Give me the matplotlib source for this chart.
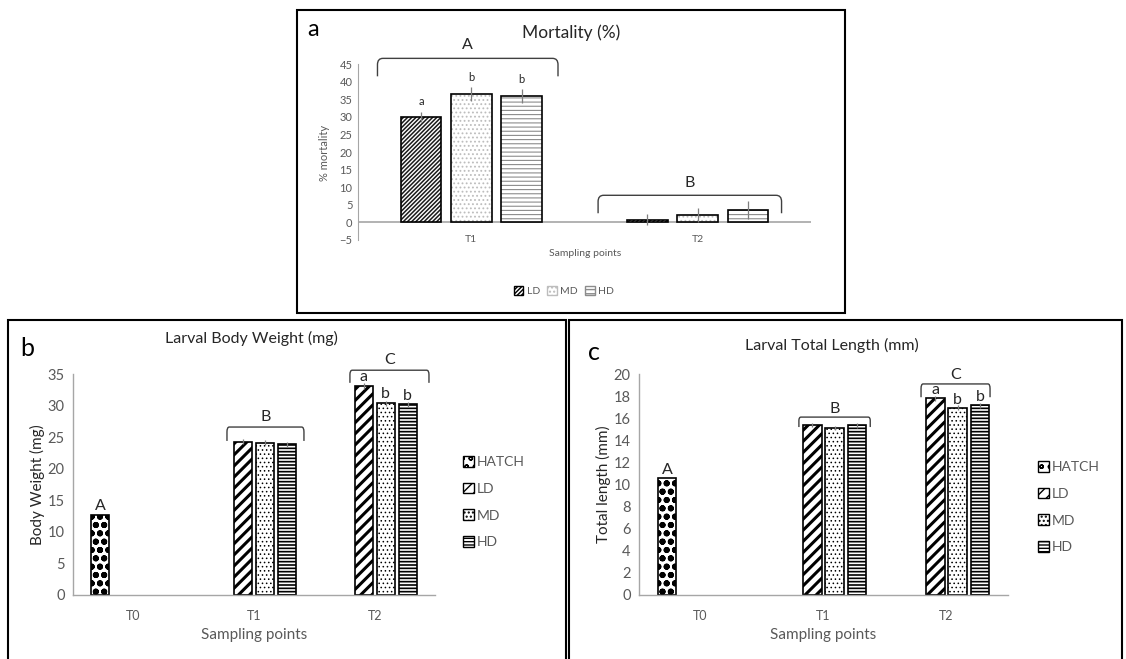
import numpy as np
import matplotlib
matplotlib.use("Agg")
from matplotlib import pyplot as plt
from matplotlib.patches import Rectangle, Patch, PathPatch
from matplotlib.path import Path

plt.rcParams['font.family'] = ['Lato', 'DejaVu Sans']

W, H = 1126, 659
GREY = '#595959'
AXIS_GREY = '#a6a6a6'

# ---- panel a : mortality
mort_points = ['T1', 'T2']
mort_series = ['LD', 'MD', 'HD']
mort_LD = [30.0, 0.8]
mort_MD = [36.5, 2.0]
mort_HD = [35.8, 3.5]
mort_LD_err = [1.5, 1.5]
mort_MD_err = [2.0, 2.0]
mort_HD_err = [2.0, 2.5]
mort_letters = ['a', 'b', 'b']      # on T1 bars
mort_groups = ['A', 'B']

# ---- panels b and c : growth
growth_points = ['T0', 'T1', 'T2']
growth_series = ['HATCH', 'LD', 'MD', 'HD']
nan = np.nan
weight_HATCH = [12.7, nan, nan]
weight_LD = [nan, 24.3, 33.1]
weight_MD = [nan, 24.1, 30.4]
weight_HD = [nan, 23.9, 30.2]
weight_err = [0.3, 0.4, 0.4]
length_HATCH = [10.6, nan, nan]
length_LD = [nan, 15.4, 17.8]
length_MD = [nan, 15.1, 16.95]
length_HD = [nan, 15.35, 17.15]
length_err = [0.15, 0.2, 0.2]
growth_groups = ['A', 'B', 'C']
t2_letters = ['a', 'b', 'b']


def px_rect(x0, y0, x1, y1):
    return [x0 / W, 1 - y1 / H, (x1 - x0) / W, (y1 - y0) / H]


def fig_xy(x, y):
    return x / W, 1 - y / H


def bracket(ax, x0, x1, ytop, ybot, label, ylab, fs, color='#404040'):
    dx = (x1 - x0) * 0.03
    dy = (ytop - ybot) * 0.35
    verts = [(x0, ybot), (x0, ytop - dy), (x0, ytop), (x0 + dx, ytop),
             (x1 - dx, ytop), (x1, ytop), (x1, ytop - dy), (x1, ybot)]
    codes = [Path.MOVETO, Path.LINETO, Path.CURVE3, Path.CURVE3,
             Path.LINETO, Path.CURVE3, Path.CURVE3, Path.LINETO]
    ax.add_patch(PathPatch(Path(verts, codes), fill=False, ec=color, lw=1.0, clip_on=False))
    ax.text((x0 + x1) / 2, ylab, label, ha='center', va='center', fontsize=fs, color='#262626', clip_on=False)


def hatched_bar(ax, x, h, width, hatch, hcolor, hlw, err=None, ecolor='#7f7f7f'):
    with plt.rc_context({'hatch.linewidth': hlw}):
        bars = ax.bar(x, h, width, color='white', edgecolor=hcolor, hatch=hatch, linewidth=0)
    for b in bars:
        if hasattr(b, 'set_hatch_linewidth'):
            b.set_hatch_linewidth(hlw)
    ax.bar(x, h, width, fill=False, edgecolor='black', linewidth=1.2,
           yerr=err, error_kw=dict(ecolor=ecolor, elinewidth=0.9, capsize=0))


fig = plt.figure(figsize=(W / 100, H / 100), dpi=100)

# boxes round the panels
for (x0, y0, x1, y1) in [(297, 10, 845, 313), (8, 320, 566, 662), (569, 320, 1122, 662)]:
    fig.add_artist(Rectangle(fig_xy(x0, y1), (x1 - x0) / W, (y1 - y0) / H,
                             transform=fig.transFigure, fill=False, ec='black', lw=1.5))

# ================= panel a
ax = fig.add_axes(px_rect(358, 64, 811, 240))
xa = np.arange(len(mort_points))
slot = 0.222
bw = 0.18
a_style = {'LD': ('////////', '#1a1a1a', 1.1), 'MD': ('....', '#bdbdbd', 0.8), 'HD': ('----', '#8c8c8c', 0.8)}
a_vals = [mort_LD, mort_MD, mort_HD]
a_errs = [mort_LD_err, mort_MD_err, mort_HD_err]
for i, s in enumerate(mort_series):
    hatch, hc, hlw = a_style[s]
    pos = xa + (i - 1) * slot
    hatched_bar(ax, pos, a_vals[i], bw, hatch, hc, hlw, err=a_errs[i])
    ax.annotate(mort_letters[i], (pos[0], a_vals[i][0] + a_errs[i][0]), xytext=(0, 3),
                textcoords='offset points', ha='center', va='bottom', fontsize=8, color='#262626')
ax.set_xlim(-0.5, 1.5)
ax.set_ylim(-5, 45)
ax.set_yticks(np.arange(-5, 50, 5))
ax.tick_params(axis='y', length=0, labelsize=8, labelcolor=GREY, pad=4)
ax.set_xticks([])
for sp in ['top', 'right', 'bottom']:
    ax.spines[sp].set_visible(False)
ax.spines['left'].set_color(AXIS_GREY)
ax.axhline(0, color=AXIS_GREY, lw=1.2, zorder=0)
for i, p in enumerate(mort_points):
    ax.text(xa[i], -5, p, ha='center', va='center', fontsize=7.5, color=GREY)
bracket(ax, -0.414, 0.383, 46.6, 41.5, mort_groups[0], 50.3, 11.5)
bracket(ax, 1 - 0.44, 1 + 0.37, 7.7, 2.6, mort_groups[1], 11.1, 11.5)
fig.text(*fig_xy(324, 153), '% mortality', rotation=90, ha='center', va='center', fontsize=8, color=GREY)
fig.text(*fig_xy(585, 254), 'Sampling points', ha='center', va='center', fontsize=7.5, color=GREY)
fig.text(*fig_xy(571, 33), 'Mortality (%)', ha='center', va='center', fontsize=12.5, color='#262626')
fig.text(*fig_xy(313, 30), 'a', ha='center', va='center', fontsize=17, color='black')
handles = [Patch(facecolor='white', edgecolor=a_style[s][1] if s != 'LD' else 'black',
                 hatch=a_style[s][0], linewidth=1) for s in mort_series]
fig.legend(handles, mort_series, loc='center', bbox_to_anchor=fig_xy(564, 291), ncol=3,
           frameon=False, fontsize=7.5, handlelength=0.9, handleheight=0.9, handletextpad=0.35,
           columnspacing=0.7, labelcolor=GREY)

# ================= panels b and c
g_style = {'HATCH': ('oo', 'black', 2.0), 'LD': ('///', 'black', 2.2),
           'MD': ('....', 'black', 0.6), 'HD': ('-----', 'black', 1.2)}


def growth_panel(rect, vals, err, ylim, ystep, groups_pos, letter_off, title, title_xy,
                 tag, tag_xy, ylab, ylab_x, leg_xy):
    ax = fig.add_axes(px_rect(*rect))
    xg = np.arange(len(growth_points))
    slot = 0.182
    bw = 0.15
    for i, s in enumerate(growth_series):
        hatch, hc, hlw = g_style[s]
        pos = xg + (i - 1.5) * slot
        e = err if s != 'HATCH' else None
        hatched_bar(ax, pos, vals[i], bw, hatch, hc, hlw, err=e)
        if s == 'HATCH':
            ax.text(pos[0], vals[i][0] + letter_off, growth_groups[0], ha='center', va='bottom',
                    fontsize=11.5, color='#262626')
        else:
            ax.text(pos[2], vals[i][2] + letter_off, t2_letters[i - 1], ha='center', va='bottom',
                    fontsize=11.5, color='#262626')
    ax.set_xlim(-0.5, 2.5)
    ax.set_ylim(0, ylim)
    ax.set_yticks(np.arange(0, ylim + 0.1, ystep))
    ax.set_xticks(xg)
    ax.set_xticklabels(growth_points)
    ax.tick_params(axis='y', length=0, labelsize=10.5, labelcolor=GREY, pad=6)
    ax.tick_params(axis='x', length=0, labelsize=9, labelcolor=GREY, pad=11)
    for sp in ['top', 'right']:
        ax.spines[sp].set_visible(False)
    for sp in ['left', 'bottom']:
        ax.spines[sp].set_color(AXIS_GREY)
        ax.spines[sp].set_linewidth(1.0)
    for k, (x0, x1, yt, yb, yl) in enumerate(groups_pos):
        bracket(ax, k + 1 + x0, k + 1 + x1, yt, yb, growth_groups[k + 1], yl, 11.5)
    cx = (rect[0] + rect[2]) / 2
    fig.text(*fig_xy(cx, 635), 'Sampling points', ha='center', va='center', fontsize=11, color=GREY)
    fig.text(*fig_xy(ylab_x, (rect[1] + rect[3]) / 2), ylab, rotation=90, ha='center', va='center',
             fontsize=11, color='#262626')
    fig.text(*fig_xy(*title_xy), title, ha='center', va='center', fontsize=11.5, color='#262626')
    fig.text(*fig_xy(*tag_xy), tag, ha='center', va='center', fontsize=18, color='black')
    handles = [Patch(facecolor='white', edgecolor='black', hatch=g_style[s][0], linewidth=1)
               for s in growth_series]
    fig.legend(handles, growth_series, loc='upper left', bbox_to_anchor=fig_xy(*leg_xy),
               frameon=False, fontsize=10, handlelength=0.8, handleheight=0.8, handletextpad=0.2,
               labelspacing=1.05, borderaxespad=0, borderpad=0, labelcolor=GREY)
    return ax


growth_panel((73, 374, 435, 595),
             [weight_HATCH, weight_LD, weight_MD, weight_HD], weight_err, 35, 5,
             [(-0.224, 0.414, 26.6, 24.4, 28.2), (-0.205, 0.45, 35.6, 33.6, 37.2)], 0.25,
             'Larval Body Weight (mg)', (251, 338), 'b', (27, 348), 'Body Weight (mg)', 37,
             (463, 456))

growth_panel((639, 374, 1008, 595),
             [length_HATCH, length_LD, length_MD, length_HD], length_err, 20, 2,
             [(-0.2, 0.38, 16.1, 15.2, 16.8), (-0.207, 0.354, 19.1, 17.9, 19.9)], 0.1,
             'Larval Total Length (mm)', (832, 345), 'c', (594, 352), 'Total length (mm)', 603,
             (1038, 461))

fig.savefig('out.png', dpi=100)
